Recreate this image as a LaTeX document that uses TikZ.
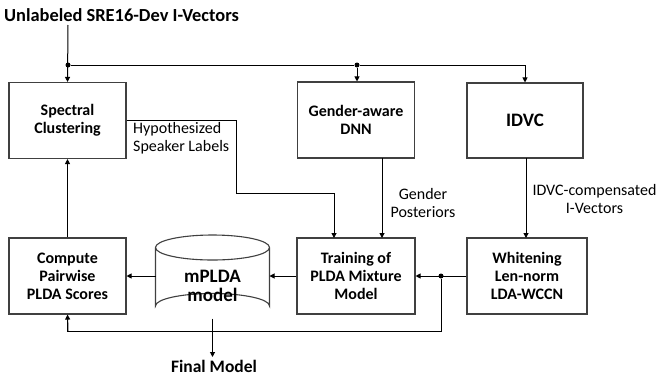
\documentclass[tikz,border=0pt]{standalone}
\usepackage{fontspec}
\setmainfont{Carlito}
\usetikzlibrary{arrows.meta}
\begin{document}
\begin{tikzpicture}[x=1pt,y=-1pt,
  box/.style={draw=black!75,line width=1.1pt,minimum width=117pt,minimum height=76pt,align=center,font=\bfseries\fontsize{16}{18}\selectfont,inner sep=0pt},
  conn/.style={line width=1pt,-{Triangle[length=5pt,width=5pt]}},
  lbl/.style={font=\fontsize{16}{18}\selectfont,align=center,inner sep=0pt},
  dot/.style={circle,fill=black,inner sep=0pt,minimum size=5pt}]
\useasboundingbox (0,0) rectangle (660,375);
\node[font=\bfseries\fontsize{18.4}{20}\selectfont,anchor=base west,inner sep=0pt] (title) at (4,21) {Unlabeled SRE16-Dev I-Vectors};
\node[box] (spec) at (67.5,120.5) {Spectral\\Clustering};
\node[box] (dnn) at (356,120) {Gender-aware\\DNN};
\node[box,font=\bfseries\fontsize{19}{22}\selectfont,minimum width=116pt,minimum height=75pt] (idvc) at (525,120.5) {IDVC};
\node[box] (comp) at (67.5,276) {Compute\\Pairwise\\PLDA Scores};
\node[box,minimum width=118pt] (train) at (356,276) {Training of\\PLDA Mixture\\Model};
\node[box,minimum width=120pt] (whit) at (527,276) {Whitening\\Len-norm\\LDA-WCCN};
% cylinder
\draw[draw=black!75,line width=1.1pt,fill=white] (155.5,247.5) -- (155.5,306) arc[start angle=180,end angle=360,x radius=57,y radius=12.5] -- (269.5,247.5);
\draw[draw=black!75,line width=1.1pt] (212.5,247.5) ellipse[x radius=57,y radius=12.5];
\node[font=\bfseries\fontsize{19}{19}\selectfont,align=center,inner sep=0pt] (cyl) at (212.5,286) {mPLDA\\model};
\coordinate (cylE) at (269.5,276);
\coordinate (cylW) at (155.5,276);
\coordinate (cylS) at (212.5,318.5);
\node[font=\bfseries\fontsize{17.5}{19}\selectfont,inner sep=0pt] (final) at (214,366) {Final Model};
% junctions
\node[dot] (j1) at (68,65) {};
\node[dot] (j2) at (357,65) {};
\node[dot] (j3) at (441,276) {};
\coordinate (t1) at (68,25);
% connectors
\draw[conn] (t1) -- (spec.north);
\draw[line width=1pt] (j1) -- (j2);
\draw[conn] (j2) -- (dnn.north -| j2);
\draw[conn] (j2) -| (idvc.north);
\draw[conn] (spec.east) -- (236,120.5) -- (236,193) -| (334,238);
\draw[conn] (382,158) -- (382,238);
\draw[conn] (526,158) -- (526,238);
\draw[conn] (whit.west) -- (train.east);
\draw[line width=1pt] (j3) -- (441,331) -| (comp.south);
\draw[conn] (68,331) -- (comp.south);
\draw[conn] (train.west) -- (cylE);
\draw[conn] (cylW) -- (comp.east);
\draw[conn] (comp.north) -- (spec.south);
\draw[conn] (cylS) -- (212.5,357);
% labels
\node[lbl,align=left,anchor=north west] (hyp) at (133,122) {Hypothesized\\Speaker Labels};
\node[lbl] (gp) at (423,203) {Gender\\Posteriors};
\node[lbl] (iv) at (594.5,199) {IDVC-compensated\\I-Vectors};
\end{tikzpicture}
\end{document}
